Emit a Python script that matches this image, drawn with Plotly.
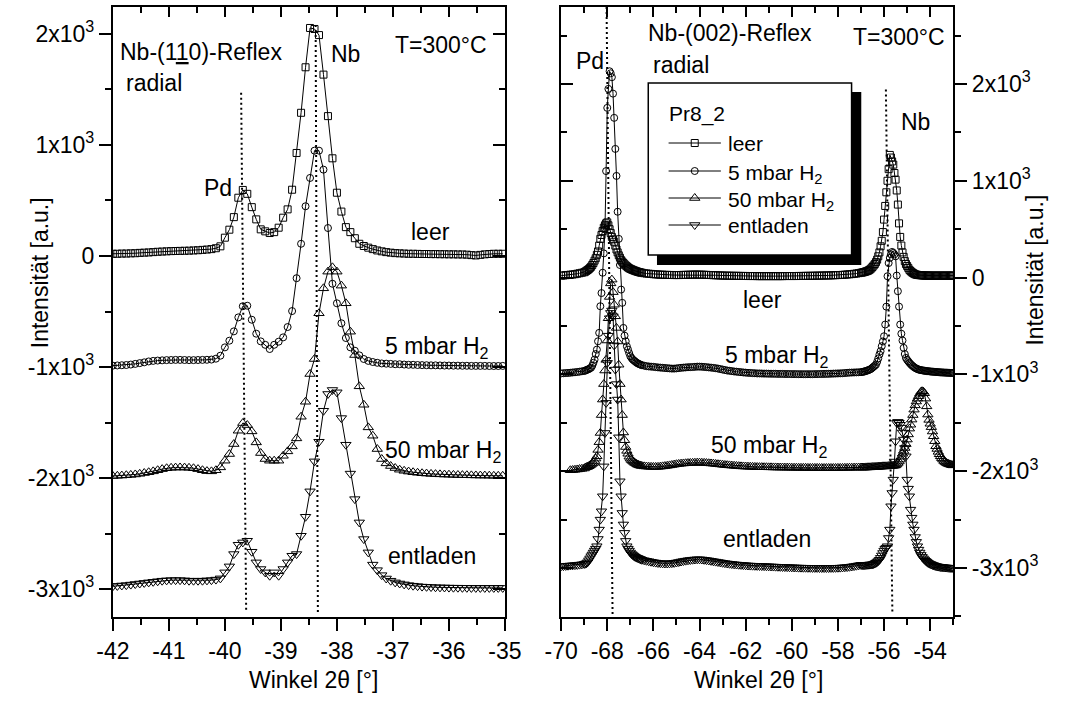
import plotly.graph_objects as go

FONT = "Liberation Sans, Arial, sans-serif"

# ---------------- Nb-(110) reflex, radial scan ----------------
ANGLE_110 = [
    -42.00, -41.92, -41.84, -41.76, -41.68, -41.60, -41.52, -41.44, -41.36, -41.28,
    -41.20, -41.12, -41.04, -40.96, -40.88, -40.80, -40.72, -40.64, -40.56, -40.48,
    -40.40, -40.32, -40.24, -40.16, -40.08, -40.00, -39.92, -39.84, -39.76, -39.68,
    -39.60, -39.52, -39.44, -39.36, -39.28, -39.20, -39.12, -39.04, -38.96, -38.88,
    -38.80, -38.72, -38.64, -38.56, -38.48, -38.40, -38.32, -38.24, -38.16, -38.08,
    -38.00, -37.92, -37.84, -37.76, -37.68, -37.60, -37.52, -37.44, -37.36, -37.28,
    -37.20, -37.12, -37.04, -36.96, -36.88, -36.80, -36.72, -36.64, -36.56, -36.48,
    -36.40, -36.32, -36.24, -36.16, -36.08, -36.00, -35.92, -35.84, -35.76, -35.68,
    -35.60, -35.52, -35.44, -35.36, -35.28, -35.20, -35.12, -35.04,
]
I110_LEER = [
    20, 20, 22, 22, 24, 25, 28, 30, 32, 35,
    38, 40, 42, 44, 45, 46, 47, 48, 50, 52,
    55, 58, 62, 70, 87, 165, 237, 350, 525, 595,
    560, 440, 330, 240, 222, 207, 215, 255, 345, 420,
    597, 928, 1290, 1700, 2054, 2045, 1990, 1634, 1260, 880,
    570, 400, 260, 215, 160, 110, 90, 75, 62, 50,
    42, 35, 30, 26, 24, 22, 20, 20, 19, 18,
    18, 17, 17, 16, 16, 15, 15, 14, 14, 12,
    8, 5, 10, 15, 18, 20, 20, 20,
]
I110_5MBAR = [
    -988, -986, -984, -982, -978, -972, -965, -958, -950, -945,
    -942, -940, -938, -937, -936, -936, -937, -938, -938, -937,
    -936, -935, -933, -925, -898, -823, -763, -679, -553, -453,
    -448, -574, -700, -769, -800, -838, -800, -772, -733, -640,
    -496, -200, 110, 448, 703, 949, 949, 778, 252, -250,
    -426, -606, -739, -823, -853, -895, -928, -945, -955, -962,
    -968, -970, -972, -975, -975, -978, -980, -980, -982, -983,
    -984, -985, -985, -986, -987, -987, -988, -988, -989, -989,
    -990, -990, -990, -990, -991, -991, -991, -990,
]
I110_50MBAR = [
    -1982, -1980, -1978, -1975, -1972, -1968, -1962, -1955, -1948, -1940,
    -1930, -1920, -1912, -1908, -1906, -1905, -1906, -1908, -1912, -1920,
    -1930, -1938, -1940, -1930, -1904, -1844, -1784, -1694, -1574, -1505,
    -1523, -1580, -1679, -1775, -1829, -1844, -1844, -1844, -1800, -1760,
    -1715, -1643, -1448, -1313, -1063, -928, -516, -291, -141, -102,
    -141, -267, -426, -682, -892, -1174, -1340, -1544, -1619, -1739,
    -1829, -1868, -1892, -1910, -1925, -1935, -1942, -1948, -1953, -1957,
    -1960, -1963, -1965, -1967, -1969, -1970, -1972, -1973, -1974, -1975,
    -1976, -1977, -1978, -1978, -1979, -1980, -1980, -1980,
]
I110_ENTLADEN = [
    -2975, -2972, -2968, -2965, -2960, -2955, -2950, -2945, -2940, -2935,
    -2930, -2925, -2922, -2920, -2920, -2920, -2922, -2925, -2925, -2925,
    -2925, -2922, -2920, -2915, -2904, -2850, -2796, -2685, -2601, -2580,
    -2565, -2664, -2760, -2820, -2850, -2880, -2850, -2880, -2820, -2760,
    -2700, -2685, -2520, -2349, -2120, -1850, -1673, -1394, -1243, -1207,
    -1228, -1460, -1700, -1960, -2190, -2400, -2550, -2670, -2780, -2830,
    -2875, -2905, -2925, -2940, -2950, -2958, -2965, -2970, -2974, -2978,
    -2980, -2982, -2984, -2985, -2986, -2987, -2988, -2988, -2989, -2989,
    -2990, -2990, -2990, -2990, -2990, -2990, -2990, -2990,
]

# ---------------- Nb-(002) reflex, radial scan ----------------
ANGLE_002_A = [-70.0, -69.9, -69.8, -69.7, -69.6, -69.5, -69.4, -69.3, -69.2, -69.1, -69.0]
ANGLE_002_B = [
    -68.95, -68.90, -68.85, -68.80, -68.75, -68.70, -68.65, -68.60, -68.55, -68.50,
    -68.45, -68.40, -68.35, -68.30, -68.25, -68.20, -68.15, -68.10, -68.05, -68.00,
    -67.95, -67.90, -67.85, -67.80, -67.75, -67.70, -67.65, -67.60, -67.55, -67.50,
    -67.45, -67.40, -67.35, -67.30, -67.25, -67.20, -67.15, -67.10, -67.05, -67.00,
    -66.95, -66.90, -66.85, -66.80, -66.75, -66.70, -66.65, -66.60, -66.55, -66.50,
]
ANGLE_002_C = [
    -66.4, -66.3, -66.2, -66.1, -66.0, -65.9, -65.8, -65.7, -65.6, -65.5,
    -65.4, -65.3, -65.2, -65.1, -65.0, -64.9, -64.8, -64.7, -64.6, -64.5,
    -64.4, -64.3, -64.2, -64.1, -64.0, -63.9, -63.8, -63.7, -63.6, -63.5,
    -63.4, -63.3, -63.2, -63.1, -63.0, -62.9, -62.8, -62.7, -62.6, -62.5,
    -62.4, -62.3, -62.2, -62.1, -62.0, -61.9, -61.8, -61.7, -61.6, -61.5,
    -61.4, -61.3, -61.2, -61.1, -61.0, -60.9, -60.8, -60.7, -60.6, -60.5,
    -60.4, -60.3, -60.2, -60.1, -60.0, -59.9, -59.8, -59.7, -59.6, -59.5,
    -59.4, -59.3, -59.2, -59.1, -59.0, -58.9, -58.8, -58.7, -58.6, -58.5,
    -58.4, -58.3, -58.2, -58.1, -58.0, -57.9, -57.8, -57.7, -57.6, -57.5,
    -57.4, -57.3, -57.2, -57.1, -57.0,
]
ANGLE_002_D = [
    -56.95, -56.90, -56.85, -56.80, -56.75, -56.70, -56.65, -56.60, -56.55, -56.50,
    -56.45, -56.40, -56.35, -56.30, -56.25, -56.20, -56.15, -56.10, -56.05, -56.00,
    -55.95, -55.90, -55.85, -55.80, -55.75, -55.70, -55.65, -55.60, -55.55, -55.50,
    -55.45, -55.40, -55.35, -55.30, -55.25, -55.20, -55.15, -55.10, -55.05, -55.00,
    -54.95, -54.90, -54.85, -54.80, -54.75, -54.70, -54.65, -54.60, -54.55, -54.50,
    -54.45, -54.40, -54.35, -54.30, -54.25, -54.20, -54.15, -54.10, -54.05, -54.00,
    -53.95, -53.90, -53.85, -53.80, -53.75, -53.70, -53.65, -53.60, -53.55, -53.50,
    -53.45, -53.40, -53.35, -53.30, -53.25, -53.20, -53.15, -53.10, -53.05, -53.00,
]
ANGLE_002 = ANGLE_002_A + ANGLE_002_B + ANGLE_002_C + ANGLE_002_D

I002_LEER = [
    # -70.0 .. -69.0
    20, 22, 25, 27, 30, 32, 35, 40, 45, 50, 55,
    # -68.95 .. -66.50
    62, 70, 78, 88, 100, 112, 130, 150, 175, 200,
    235, 270, 330, 400, 440, 480, 515, 540, 560, 570,
    540, 500, 460, 420, 395, 370, 330, 290, 260, 230,
    205, 180, 165, 150, 137, 125, 115, 105, 97, 90,
    85, 80, 75, 70, 66, 62, 58, 55, 52, 50,
    # -66.4 .. -57.0
    45, 42, 40, 38, 35, 33, 32, 30, 30, 28,
    28, 27, 27, 26, 26, 26, 27, 28, 28, 29,
    30, 30, 31, 31, 30, 30, 29, 28, 27, 26,
    25, 24, 23, 22, 21, 20, 20, 19, 19, 18,
    18, 18, 17, 17, 17, 16, 16, 16, 16, 15,
    15, 15, 15, 15, 15, 15, 15, 15, 15, 15,
    15, 16, 16, 16, 16, 16, 16, 17, 17, 17,
    18, 18, 18, 19, 19, 20, 20, 21, 21, 22,
    22, 23, 24, 25, 26, 27, 28, 30, 32, 34,
    36, 39, 42, 46, 50,
    # -56.95 .. -53.00
    52, 55, 58, 62, 66, 70, 77, 85, 96, 110,
    125, 140, 160, 185, 220, 260, 323, 380, 470, 599,
    740, 881, 1000, 1120, 1267, 1240, 1200, 1167, 1080, 1012,
    900, 754, 560, 420, 331, 260, 214, 170, 140, 120,
    100, 80, 67, 56, 48, 40, 34, 30, 28, 26,
    25, 24, 23, 22, 22, 21, 21, 20, 20, 20,
    20, 20, 19, 19, 19, 20, 20, 20, 19, 19,
    19, 20, 20, 20, 19, 19, 20, 20, 20, 20,
]
I002_5MBAR = [
    -990, -988, -986, -985, -983, -980, -978, -975, -972, -968, -965,
    -960, -955, -950, -945, -938, -930, -910, -880, -847, -790,
    -744, -658, -571, -296, -160, 50, 250, 496, 1100, 1753,
    1949, 2131, 2110, 2070, 1900, 1650, 1329, 1050, 680, 400,
    130, -124, -261, -520, -600, -658, -710, -744, -780, -813,
    -830, -845, -855, -865, -875, -883, -890, -895, -900, -905,
    -910, -915, -918, -920, -922, -925, -928, -930, -932, -934,
    -936, -938, -940, -940, -938, -935, -932, -930, -928, -926,
    -925, -924, -922, -920, -920, -921, -923, -925, -928, -930,
    -933, -936, -940, -945, -950, -955, -960, -963, -966, -970,
    -972, -975, -977, -980, -982, -984, -985, -987, -988, -990,
    -990, -991, -992, -992, -993, -993, -994, -994, -995, -995,
    -995, -996, -996, -996, -997, -997, -997, -998, -998, -998,
    -998, -998, -998, -998, -997, -997, -996, -996, -995, -995,
    -994, -993, -992, -991, -990, -989, -988, -986, -984, -982,
    -981, -980, -979, -978, -977,
    -975, -972, -970, -966, -962, -958, -953, -948, -940, -930,
    -920, -910, -899, -870, -835, -795, -760, -709, -660, -606,
    -485, -300, 14, 150, 203, 240, 265, 255, 240, 220,
    21, -141, -300, -485, -580, -650, -726, -790, -830, -850,
    -865, -880, -893, -905, -915, -925, -933, -940, -945, -950,
    -953, -956, -958, -960, -962, -964, -966, -967, -968, -970,
    -971, -972, -973, -974, -975, -976, -977, -978, -979, -980,
    -980, -981, -982, -982, -983, -984, -984, -985, -985, -985,
]
I002_50MBAR = [
    None, None, None, None, -1990, -1988, -1985, -1982, -1978, -1975, -1972,
    -1962, -1958, -1954, -1948, -1940, -1932, -1922, -1914, -1895, -1870,
    -1846, -1780, -1700, -1605, -1420, -1260, -1100, -960, -850, -650,
    -420, -200, -60, -21, -150, -280, -400, -520, -660, -900,
    -1100, -1260, -1420, -1600, -1680, -1750, -1790, -1820, -1850, -1870,
    -1885, -1895, -1905, -1915, -1922, -1930, -1935, -1940, -1943, -1946,
    -1950, -1952, -1954, -1955, -1956, -1956, -1955, -1953, -1950, -1947,
    -1944, -1940, -1936, -1932, -1928, -1925, -1922, -1920, -1918, -1916,
    -1915, -1914, -1913, -1912, -1912, -1913, -1914, -1916, -1918, -1920,
    -1922, -1925, -1928, -1930, -1933, -1936, -1938, -1940, -1942, -1944,
    -1946, -1948, -1950, -1951, -1952, -1953, -1954, -1955, -1956, -1957,
    -1958, -1958, -1959, -1959, -1960, -1960, -1961, -1961, -1962, -1962,
    -1962, -1963, -1963, -1963, -1964, -1964, -1964, -1965, -1965, -1965,
    -1965, -1966, -1966, -1966, -1966, -1966, -1967, -1967, -1967, -1967,
    -1967, -1967, -1967, -1967, -1966, -1966, -1966, -1965, -1965, -1964,
    -1964, -1963, -1963, -1962, -1962,
    -1962, -1962, -1962, -1961, -1961, -1960, -1960, -1960, -1959, -1958,
    -1958, -1957, -1956, -1955, -1954, -1953, -1952, -1951, -1950, -1950,
    -1950, -1950, -1949, -1948, -1947, -1946, -1945, -1944, -1942, -1940,
    -1930, -1915, -1900, -1880, -1850, -1820, -1790, -1760, -1720, -1673,
    -1620, -1560, -1520, -1467, -1420, -1364, -1320, -1280, -1250, -1225,
    -1200, -1180, -1174, -1178, -1195, -1250, -1330, -1415, -1470, -1510,
    -1545, -1590, -1639, -1690, -1742, -1770, -1800, -1825, -1846, -1865,
    -1880, -1895, -1905, -1914, -1920, -1926, -1930, -1934, -1938, -1940,
]
I002_ENTLADEN = [
    -2982, -2980, -2978, -2976, -2974, -2972, -2970, -2968, -2965, -2962, -2958,
    -2955, -2950, -2940, -2920, -2900, -2878, -2860, -2840, -2820, -2800,
    -2775, -2700, -2603, -2500, -2414, -2259, -1950, -1605, -1294, -881,
    -600, -420, -365, -340, -400, -700, -950, -1100, -1260, -1650,
    -2104, -2259, -2431, -2550, -2637, -2720, -2775, -2800, -2820, -2840,
    -2855, -2865, -2875, -2883, -2890, -2895, -2900, -2905, -2910, -2915,
    -2920, -2925, -2930, -2935, -2940, -2944, -2948, -2950, -2952, -2953,
    -2953, -2952, -2950, -2947, -2943, -2938, -2933, -2928, -2924, -2920,
    -2917, -2914, -2912, -2910, -2910, -2912, -2915, -2918, -2922, -2926,
    -2930, -2934, -2938, -2942, -2946, -2950, -2953, -2956, -2959, -2962,
    -2964, -2966, -2968, -2970, -2972, -2974, -2975, -2976, -2977, -2978,
    -2979, -2980, -2981, -2982, -2983, -2984, -2985, -2986, -2987, -2988,
    -2989, -2990, -2991, -2992, -2993, -2994, -2995, -2996, -2996, -2997,
    -2997, -2998, -2998, -2999, -2999, -2999, -3000, -3000, -3000, -3000,
    -3000, -2999, -2999, -2998, -2997, -2996, -2994, -2992, -2990, -2987,
    -2984, -2980, -2976, -2972, -2968,
    -2970, -2970, -2969, -2968, -2967, -2966, -2965, -2964, -2964, -2962,
    -2958, -2953, -2946, -2938, -2928, -2915, -2895, -2870, -2845, -2820,
    -2800, -2790, -2775, -2690, -2603, -2362, -2225, -2087, -1900, -1691,
    -1501, -1490, -1500, -1520, -1550, -1600, -1673, -1760, -1846, -2087,
    -2180, -2259, -2397, -2480, -2550, -2603, -2680, -2730, -2775, -2810,
    -2840, -2865, -2885, -2900, -2913, -2925, -2935, -2945, -2952, -2958,
    -2963, -2968, -2972, -2976, -2980, -2983, -2985, -2987, -2989, -2990,
    -2992, -2993, -2994, -2995, -2996, -2997, -2998, -2999, -2999, -2999,
]

SERIES_NAMES = ["leer", "5 mbar H<sub>2</sub>", "50 mbar H<sub>2</sub>", "entladen"]
SYMBOLS = ["square-open", "circle-open", "triangle-up-open", "triangle-down-open"]
SYMBOL_SIZES = [7, 7, 9, 9]
SERIES_110 = [I110_LEER, I110_5MBAR, I110_50MBAR, I110_ENTLADEN]
SERIES_002 = [I002_LEER, I002_5MBAR, I002_50MBAR, I002_ENTLADEN]

for ys in SERIES_110:
    if len(ys) != len(ANGLE_110):
        raise ValueError(f"110 length {len(ys)} != {len(ANGLE_110)}")
for ys in SERIES_002:
    if len(ys) != len(ANGLE_002):
        raise ValueError(f"002 length {len(ys)} != {len(ANGLE_002)}")

# dotted guide lines at the Pd / Nb peak positions: (x_top, y_top, x_bottom, y_bottom)
GUIDES_110 = [(-39.71, 1470, -39.62, -3208), (-38.38, 2081, -38.34, -3208)]
GUIDES_002 = [(-68.03, 2795, -67.77, -3480), (-55.92, 1942, -55.64, -3450)]

# axis ticks
X110_TICKS = [-42, -41, -40, -39, -38, -37, -36, -35]
X110_TICKTEXT = ["-42", "-41", "-40", "-39", "-38", "-37", "-36", "-35"]
X110_MINOR = [-41.5, -40.5, -39.5, -38.5, -37.5, -36.5, -35.5]
X002_TICKS = [-70, -68, -66, -64, -62, -60, -58, -56, -54]
X002_TICKTEXT = ["-70", "-68", "-66", "-64", "-62", "-60", "-58", "-56", "-54"]
X002_MINOR = [-69, -67, -65, -63, -61, -59, -57, -55, -53]
Y_TICKS = [-3000, -2000, -1000, 0, 1000, 2000]
Y_TICKTEXT = ["-3x10<sup>3</sup>", "-2x10<sup>3</sup>", "-1x10<sup>3</sup>", "0",
              "1x10<sup>3</sup>", "2x10<sup>3</sup>"]
Y_MINOR = [-3500, -2500, -1500, -500, 500, 1500, 2500]

X110_RANGE = [-42, -35]
X002_RANGE = [-70, -53.0]
Y110_RANGE = [-3252, 2243]
Y002_RANGE = [-3506, 2795]

W, H = 1069, 701
DOM_X1 = [99 / W, 504 / W]
DOM_X2 = [562 / W, 967 / W]
DOM_Y = [1 - 617 / H, 1 - 7 / H]

fig = go.Figure()


def add_series(xs, series, xa, ya):
    for ys, sym, sz in zip(series, SYMBOLS, SYMBOL_SIZES):
        fig.add_trace(go.Scatter(
            x=xs, y=ys, mode="lines+markers", xaxis=xa, yaxis=ya,
            line=dict(color="black", width=1),
            marker=dict(symbol=sym, size=sz, color="black", line=dict(color="black", width=1)),
            showlegend=False, hoverinfo="skip"))


def add_guides(guides, xa, ya):
    for xt, yt, xb, yb in guides:
        fig.add_trace(go.Scatter(
            x=[xt, xb], y=[yt, yb], mode="lines", xaxis=xa, yaxis=ya,
            line=dict(color="black", width=2, dash="2px,3px"),
            showlegend=False, hoverinfo="skip"))


add_guides(GUIDES_110, "x", "y")
add_guides(GUIDES_002, "x2", "y2")
add_series(ANGLE_110, SERIES_110, "x", "y")
add_series(ANGLE_002, SERIES_002, "x2", "y2")

# empty traces so the mirrored frame axes (inside ticks) are created
for xa, ya in (("x3", "y3"), ("x4", "y4")):
    fig.add_trace(go.Scatter(x=[], y=[], xaxis=xa, yaxis=ya, showlegend=False, hoverinfo="skip"))

# key box drawn in a full-figure pixel frame
KEY_ROWS = [143, 171, 198, 225]
KEY_LINE = [673, 727]
KEY_MARK = 700
for yrow, sym, sz in zip(KEY_ROWS, SYMBOLS, SYMBOL_SIZES):
    fig.add_trace(go.Scatter(x=KEY_LINE, y=[yrow, yrow], mode="lines", xaxis="x5", yaxis="y5",
                             line=dict(color="black", width=1), showlegend=False, hoverinfo="skip"))
    fig.add_trace(go.Scatter(x=[KEY_MARK], y=[yrow], mode="markers", xaxis="x5", yaxis="y5",
                             marker=dict(symbol=sym, size=sz, color="black",
                                         line=dict(color="black", width=1)),
                             showlegend=False, hoverinfo="skip"))

tickfont = dict(family=FONT, size=23, color="black")
frame = dict(showline=True, linewidth=2, linecolor="black", showgrid=False, zeroline=False,
             tickwidth=2, tickcolor="black", tickfont=tickfont)


def minor(vals, inside):
    return dict(tickmode="array", tickvals=vals, ticks="inside" if inside else "outside",
                ticklen=6, tickwidth=2, tickcolor="black")


fig.update_layout(
    width=W, height=H, margin=dict(l=0, r=0, t=0, b=0),
    paper_bgcolor="white", plot_bgcolor="rgba(0,0,0,0)",
    xaxis=dict(domain=DOM_X1, anchor="y", range=X110_RANGE, tickmode="array",
               tickvals=X110_TICKS, ticktext=X110_TICKTEXT, ticks="outside", ticklen=12,
               minor=minor(X110_MINOR, False), **frame),
    yaxis=dict(domain=DOM_Y, anchor="x", range=Y110_RANGE, tickmode="array",
               tickvals=Y_TICKS, ticktext=Y_TICKTEXT, ticks="outside", ticklen=12,
               minor=minor(Y_MINOR, False), **frame),
    xaxis3=dict(overlaying="x", anchor="y3", side="top", range=X110_RANGE, tickmode="array",
                tickvals=X110_TICKS, ticks="inside", ticklen=10, showticklabels=False,
                minor=minor(X110_MINOR, True), **frame),
    yaxis3=dict(overlaying="y", anchor="x3", side="right", range=Y110_RANGE, tickmode="array",
                tickvals=Y_TICKS, ticks="inside", ticklen=12, showticklabels=False,
                minor=minor(Y_MINOR, True), **frame),
    xaxis2=dict(domain=DOM_X2, anchor="y2", range=X002_RANGE, tickmode="array",
                tickvals=X002_TICKS, ticktext=X002_TICKTEXT, ticks="outside", ticklen=12,
                minor=minor(X002_MINOR, False), **frame),
    yaxis2=dict(domain=DOM_Y, anchor="x2", side="right", range=Y002_RANGE, tickmode="array",
                tickvals=Y_TICKS, ticktext=Y_TICKTEXT, ticks="outside", ticklen=12,
                minor=minor(Y_MINOR, False), **frame),
    xaxis4=dict(overlaying="x2", anchor="y4", side="top", range=X002_RANGE, tickmode="array",
                tickvals=X002_TICKS, ticks="inside", ticklen=10, showticklabels=False,
                minor=minor(X002_MINOR, True), **frame),
    yaxis4=dict(overlaying="y2", anchor="x4", side="left", range=Y002_RANGE, tickmode="array",
                tickvals=Y_TICKS, ticks="inside", ticklen=12, showticklabels=False,
                minor=minor(Y_MINOR, True), **frame),
    xaxis5=dict(domain=[0, 1], anchor="y5", range=[0, W], visible=False, fixedrange=True),
    yaxis5=dict(domain=[0, 1], anchor="x5", range=[H, 0], visible=False, fixedrange=True),
    showlegend=False,
)

# key frame with drop shadow
fig.add_shape(type="rect", xref="x5", yref="y5", x0=661, x1=872, y0=92, y1=265,
              fillcolor="black", line=dict(color="black", width=0), layer="below")
fig.add_shape(type="rect", xref="x5", yref="y5", x0=652, x1=862, y0=83, y1=255,
              fillcolor="white", line=dict(color="black", width=1.5), layer="below")


def note(text, x, y, size=23, angle=0, xanchor="left"):
    fig.add_annotation(text=text, x=x, y=y, xref="x5", yref="y5", xanchor=xanchor,
                       yanchor="middle", showarrow=False, textangle=angle,
                       font=dict(family=FONT, size=size, color="black"))


# left panel labels
note("Nb-(1<u>1</u>0)-Reflex", 104, 52)
note("radial", 110, 83)
note("T=300°C", 388, 45)
note("Nb", 322, 54)
note("Pd", 191, 188)
note("leer", 405, 232)
note(SERIES_NAMES[1], 378, 347)
note(SERIES_NAMES[2], 378, 451)
note("entladen", 381, 556)

# right panel labels
note("Nb-(002)-Reflex", 650, 33)
note("radial", 655, 65)
note("T=300°C", 861, 37)
note("Pd", 575, 61)
note("Nb", 911, 122)
note("leer", 748, 300)
note(SERIES_NAMES[1], 729, 356)
note(SERIES_NAMES[2], 715, 446)
note("entladen", 727, 539)

# key text
note("Pr8_2", 671, 114, size=21)
for yrow, label in zip(KEY_ROWS, SERIES_NAMES):
    note(label, 732, yrow + (3 if "sub" in label else 0), size=21)

# axis titles
note("Intensität [a.u.]", 24, 273, angle=-90, xanchor="center")
note("Intensität [a.u.]", 1051, 270, angle=-90, xanchor="center")
note("Winkel 2θ [°]", 306, 680, xanchor="center")
note("Winkel 2θ [°]", 766, 680, xanchor="center")

fig.write_html("out.html", config={"displayModeBar": False},
               post_script="document.body.style.margin='0';")
